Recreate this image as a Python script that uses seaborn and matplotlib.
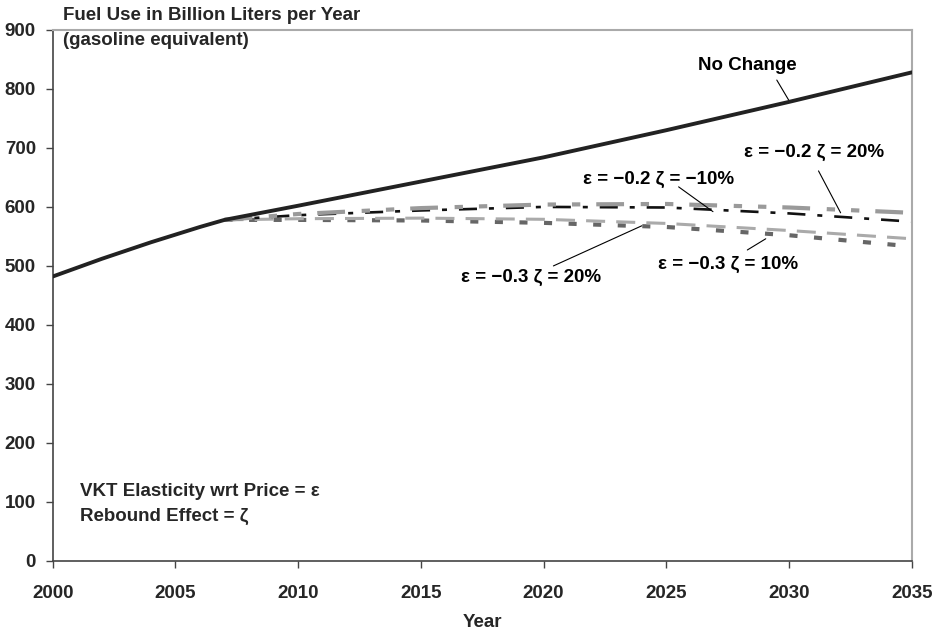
#!/usr/bin/env python3
# -*- coding: utf-8 -*-
"""
Fuel use projections under different elasticity / rebound scenarios
"""

import matplotlib
matplotlib.use("Agg")
import matplotlib.pyplot as plt
import seaborn as sns
import pandas as pd

# data
base_years = [2000, 2001, 2002, 2003, 2004, 2005, 2006, 2007,
              2010, 2015, 2020, 2025, 2030, 2035]
no_change = [482, 497, 512, 526, 540, 553, 566, 578,
             602, 643, 684, 730, 778, 828]

scen_years = [2007, 2010, 2015, 2020, 2025, 2030, 2035]
e02_z20 = [578, 588, 598, 604, 605, 599, 590]
e02_zm10 = [578, 586, 594, 600, 599, 589, 575]
e03_z20 = [578, 580, 581, 579, 572, 560, 546]
e03_z10 = [578, 578, 577, 573, 566, 552, 533]

x_ticks = [2000, 2005, 2010, 2015, 2020, 2025, 2030, 2035]
y_ticks = [0, 100, 200, 300, 400, 500, 600, 700, 800, 900]

FS = 13.5

sns.set_theme(style="white")
plt.rcParams['font.family'] = ['Liberation Sans', 'DejaVu Sans']
plt.rcParams['font.weight'] = 'bold'
plt.rcParams['lines.scale_dashes'] = False

fig = plt.figure(figsize=(9.4, 6.36), dpi=100)
ax = fig.add_axes([0.056, 0.118, 0.914, 0.835])

df_base = pd.DataFrame({'year': base_years, 'fuel': no_change})

# scenario lines: (values, color, width, dash pattern in points)
scenarios = [
    (e03_z10, '#666666', 3.0, (5.8, 11.9)),
    (e03_z20, '#aaaaaa', 2.2, (13.7, 8.0)),
    (e02_zm10, '#111111', 1.9, (13.0, 8.6, 3.6, 8.6)),
    (e02_z20, '#9a9a9a', 3.0, (20.0, 12.0, 6.0, 11.5, 6.0, 11.5)),
]
for vals, col, lw, dash in scenarios:
    d = pd.DataFrame({'year': scen_years, 'fuel': vals})
    sns.lineplot(data=d, x='year', y='fuel', color=col, lw=lw,
                 linestyle=(0, dash), ax=ax)

sns.lineplot(data=df_base, x='year', y='fuel', color='#222222', lw=2.8,
             ax=ax, zorder=5)

ax.set_xlim(2000, 2035)
ax.set_ylim(0, 900)
ax.set_xticks(x_ticks)
ax.set_yticks(y_ticks)
ax.set_xlabel('')
ax.set_ylabel('')
ax.tick_params(axis='both', which='major', direction='out', length=5,
               width=1, color='#444444', labelsize=FS, bottom=True, left=True)
ax.tick_params(axis='x', pad=12)
ax.tick_params(axis='y', pad=7)
for lab in ax.get_xticklabels() + ax.get_yticklabels():
    lab.set_fontweight('bold')

for side in ['left', 'bottom']:
    ax.spines[side].set_color('#444444')
    ax.spines[side].set_linewidth(1.2)
for side in ['top', 'right']:
    ax.spines[side].set_color('#aaaaaa')
    ax.spines[side].set_linewidth(1.5)

# labels and pointers
labels = [
    ('No Change', (2028.3, 839), (2029.5, 815), (2030.0, 780)),
    ('ε = −0.2 ζ = 20%', (2031.0, 693), (2031.2, 661), (2032.1, 590)),
    ('ε = −0.2 ζ = −10%', (2024.7, 646), (2025.5, 634), (2026.9, 592)),
    ('ε = −0.3 ζ = 20%', (2019.5, 481), (2020.4, 500), (2024.0, 568)),
    ('ε = −0.3 ζ = 10%', (2027.5, 502), (2028.3, 527), (2029.05, 546)),
]
for txt, pos, p0, p1 in labels:
    ax.text(pos[0], pos[1], txt, ha='center', va='center',
            fontsize=FS, fontweight='bold', color='black')
    ax.annotate('', xy=p1, xytext=p0,
                arrowprops=dict(arrowstyle='-', color='black', lw=0.8,
                                shrinkA=0, shrinkB=0))

ax.text(2001.1, 117, 'VKT Elasticity wrt Price = ε', ha='left', va='center',
        fontsize=FS, fontweight='bold')
ax.text(2001.1, 75, 'Rebound Effect = ζ', ha='left', va='center',
        fontsize=FS, fontweight='bold')

fig.text(0.067, 0.976, 'Fuel Use in Billion Liters per Year', ha='left',
         va='center', fontsize=FS, fontweight='bold')
fig.text(0.067, 0.937, '(gasoline equivalent)', ha='left',
         va='center', fontsize=FS, fontweight='bold')
fig.text(0.513, 0.022, 'Year', ha='center', va='center',
         fontsize=FS, fontweight='bold')

fig.savefig('out.png', dpi=100)
plt.close(fig)
